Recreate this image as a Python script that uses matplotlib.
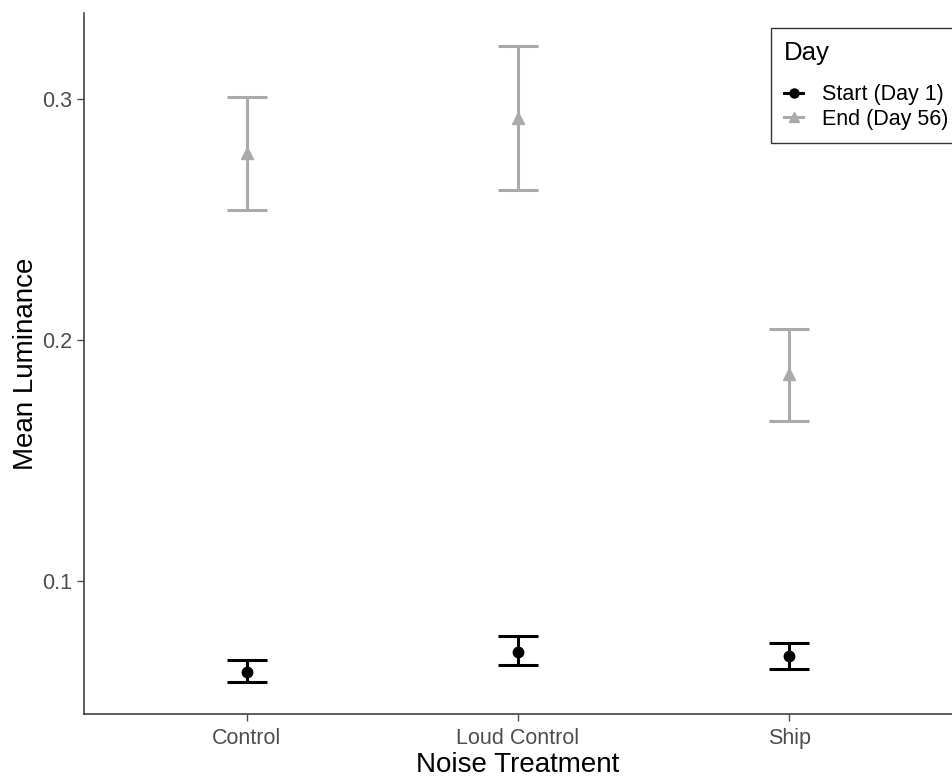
import matplotlib.pyplot as plt

plt.rcParams['font.family'] = ['Liberation Sans', 'DejaVu Sans']

treatments = ["Control", "Loud Control", "Ship"]

# Start (Day 1)
start_mean = [0.0622, 0.0705, 0.0689]
start_low = [0.0581, 0.0651, 0.0635]
start_high = [0.0672, 0.0772, 0.0743]

# End (Day 56)
end_mean = [0.2776, 0.2921, 0.1860]
end_low = [0.2539, 0.2622, 0.1664]
end_high = [0.3008, 0.3220, 0.2046]

fig = plt.figure(figsize=(9.52, 7.76), dpi=100)
ax = fig.add_axes([84/952, 1-714/776, 1-84/952, (714-13)/776])

x = list(range(1, len(treatments)+1))

def draw(mean, low, high, col, mk, ms, lab):
	yerr = [[m-l for m, l in zip(mean, low)], [h-m for m, h in zip(mean, high)]]
	ax.errorbar(x, mean, yerr=yerr, fmt='none', ecolor=col, elinewidth=2.2,
		capsize=14.4, capthick=2.2, zorder=2)
	ax.plot(x, mean, linestyle='none', marker=mk, color=col, markersize=ms, zorder=3)
	return ax.plot([], [], color=col, marker=mk, markersize=ms-1, linewidth=2.2, label=lab)[0]

h1 = draw(start_mean, start_low, start_high, 'black', 'o', 7.5, "Start (Day 1)")
h2 = draw(end_mean, end_low, end_high, '#aaaaaa', '^', 8, "End (Day 56)")

ax.set_xlim(0.4, 3.6)
ax.set_ylim(0.0448, 0.3357)
ax.set_xticks(x)
ax.set_xticklabels(treatments)
ax.set_yticks([0.1, 0.2, 0.3])
ax.set_yticklabels(["0.1", "0.2", "0.3"])
ax.tick_params(colors='#4d4d4d', labelsize=15.5, length=5, width=1)
ax.tick_params(axis='x', pad=5)
for s in ['top', 'right']:
	ax.spines[s].set_visible(False)
for s in ['left', 'bottom']:
	ax.spines[s].set_color('#333333')
	ax.spines[s].set_linewidth(1.1)
ax.set_xlabel("Noise Treatment", fontsize=20, labelpad=2)
ax.set_ylabel("Mean Luminance", fontsize=20, labelpad=2)

leg = fig.legend(handles=[h1, h2], title="Day", loc='upper left',
	bbox_to_anchor=(771/952, 1-28/776), borderaxespad=0, fontsize=15.5, title_fontsize=18.5,
	frameon=True, fancybox=False, edgecolor='black', handlelength=0.9,
	handletextpad=0.85, borderpad=0.6, labelspacing=0.15)
leg._legend_box.align = 'left'
leg._legend_box.sep = 14
leg.get_frame().set_linewidth(1)

fig.savefig("out.png", dpi=100)
